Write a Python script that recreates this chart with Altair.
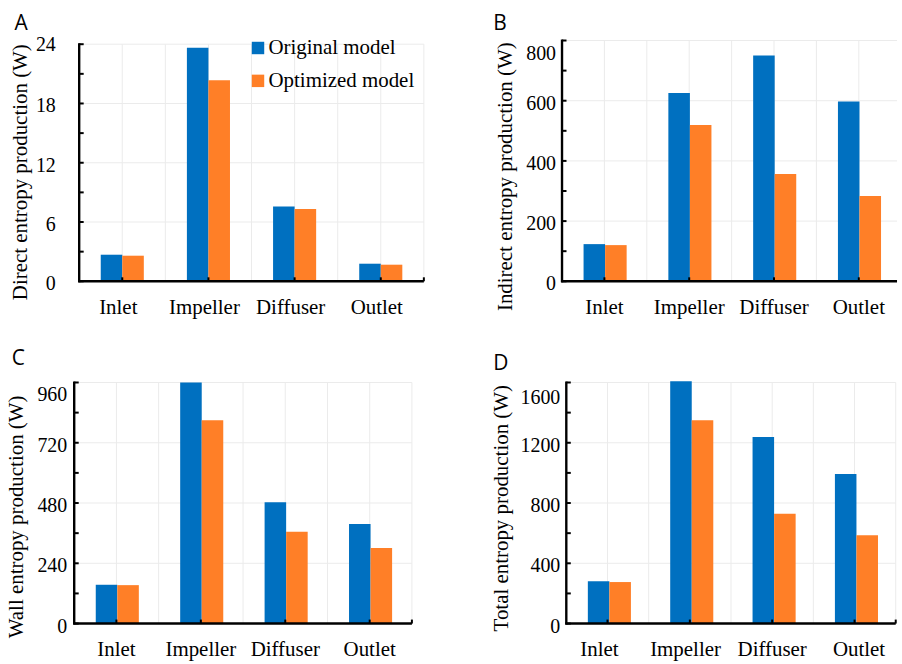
import altair as alt
import pandas as pd

# ---- data -----------------------------------------------------------------
categories = ["Inlet", "Impeller", "Diffuser", "Outlet"]
models = ["Original model", "Optimized model"]
colors = ["#0070C0", "#FF7F27"]

direct_original = [2.69, 23.63, 7.56, 1.78]
direct_optimized = [2.59, 20.34, 7.33, 1.68]

indirect_original = [123.5, 625.8, 750.6, 597.0]
indirect_optimized = [120.2, 518.9, 356.6, 283.7]

wall_original = [154.5, 960.0, 483.0, 396.0]
wall_optimized = [153.0, 810.0, 365.6, 301.0]

total_original = [281.0, 1609.0, 1239.0, 993.0]
total_optimized = [275.5, 1350.0, 729.0, 586.0]

direct_ticks = [0, 6, 12, 18, 24]
indirect_ticks = [0, 200, 400, 600, 800]
wall_ticks = [0, 240, 480, 720, 960]
total_ticks = [0, 400, 800, 1200, 1600]

# ---- style ----------------------------------------------------------------
SERIF = "Liberation Serif"
GRID = "#EBEBEB"
AXIS_W = 2.4
TICK_W = 2.0


def one_row():
    return pd.DataFrame({"k": [0]})


def panel(letter, title, orig, opt, ticks, g):
    W, H = g["W"], g["H"]
    x0, x1, ytop = g["x0"], g["x1"], g["ytop"]
    xr = min(x1, W)

    bars_df = pd.DataFrame({
        "cat": categories * 2,
        "model": [models[0]] * 4 + [models[1]] * 4,
        "value": list(orig) + list(opt),
    })
    cats_df = pd.DataFrame({"cat": categories})
    major_df = pd.DataFrame({"value": ticks})
    minor = [(a + b) / 2 for a, b in zip(ticks[:-1], ticks[1:])]
    tick_df = pd.DataFrame({"value": list(ticks) + minor})

    xscale = alt.Scale(domain=categories, range=[x0, x1],
                       paddingInner=0, paddingOuter=0)
    xaxis = alt.Axis(title=None, domain=False, ticks=False, grid=False,
                     labelAngle=0, labelFont=SERIF, labelFontSize=21,
                     labelColor="black", labelPadding=g["xlabpad"],
                     labelOffset=g["xlaboff"])

    def xenc(**kw):
        return alt.X("cat:N", sort=categories, scale=xscale, axis=xaxis, **kw)

    yscale = alt.Scale(domain=[0, ticks[-1]], range=[H, ytop], nice=False)
    yaxis = alt.Axis(title=title, values=ticks, format="d",
                     domain=False, ticks=False, grid=False,
                     offset=-x0,
                     labelFont=SERIF, labelFontSize=g["ylabsize"],
                     labelColor="black", labelPadding=g["ylabpad"],
                     labelOffset={"condition": {"test": f"datum.value == {ticks[-1]}",
                                                "value": g["toplaboff"]},
                                  "value": 2.5},
                     titleFont=SERIF, titleFontSize=21, titleFontWeight="normal",
                     titleColor="black", titleAngle=270, titleAlign="center",
                     titleBaseline="middle", titleX=g["tx"], titleY=g["ty"])

    def yenc():
        return alt.Y("value:Q", scale=yscale, axis=yaxis)

    layers = []
    # light grid: horizontal at labelled values
    layers.append(alt.Chart(major_df).mark_rule(color=GRID, strokeWidth=1).encode(
        y=yenc(), x=alt.value(x0), x2=alt.value(xr)))
    # light grid: vertical at band centres and band edges
    layers.append(alt.Chart(cats_df).mark_rule(color=GRID, strokeWidth=1).encode(
        x=xenc(), y=alt.value(ytop), y2=alt.value(H)))
    layers.append(alt.Chart(cats_df).mark_rule(color=GRID, strokeWidth=1).encode(
        x=xenc(bandPosition=0), y=alt.value(ytop), y2=alt.value(H)))
    if x1 <= W:
        layers.append(alt.Chart(one_row()).mark_rule(color=GRID, strokeWidth=1).encode(
            x=alt.value(x1), y=alt.value(ytop), y2=alt.value(H)))

    legend = None
    if g.get("legend"):
        lx, ly = g["legend"]
        legend = alt.Legend(title=None, orient="none", legendX=lx, legendY=ly,
                            symbolType="square", symbolSize=156,
                            symbolStrokeWidth=0, symbolOpacity=1,
                            labelFont=SERIF, labelFontSize=21, labelColor="black",
                            labelOffset=0, rowPadding=11, padding=0)
    layers.append(alt.Chart(bars_df).mark_bar(strokeWidth=0).encode(
        x=xenc(),
        xOffset=alt.XOffset("model:N", sort=models,
                            scale=alt.Scale(domain=models, paddingInner=0,
                                            paddingOuter=1)),
        y=yenc(),
        color=alt.Color("model:N", sort=models,
                        scale=alt.Scale(domain=models, range=colors),
                        legend=legend),
    ))

    # inward ticks on the value axis (labelled and half steps)
    layers.append(alt.Chart(tick_df).mark_rule(color="black", strokeWidth=TICK_W).encode(
        y=yenc(), x=alt.value(x0), x2=alt.value(x0 + 4.5)))
    # inward ticks on the category axis
    layers.append(alt.Chart(cats_df).mark_rule(color="black", strokeWidth=TICK_W).encode(
        x=xenc(), y=alt.value(H), y2=alt.value(H - 4)))
    if x1 <= W:
        layers.append(alt.Chart(one_row()).mark_rule(color="black", strokeWidth=TICK_W).encode(
            x=alt.value(x1), y=alt.value(H), y2=alt.value(H - 4)))
    # axis lines
    layers.append(alt.Chart(one_row()).mark_rule(color="black", strokeWidth=AXIS_W).encode(
        x=alt.value(x0), y=alt.value(ytop - 1), y2=alt.value(H + 1)))
    layers.append(alt.Chart(one_row()).mark_rule(color="black", strokeWidth=AXIS_W).encode(
        y=alt.value(H), x=alt.value(x0 - 1), x2=alt.value(xr)))
    # panel letter
    lx, ly = g["letter"]
    layers.append(alt.Chart(one_row()).mark_text(
        text=letter, font="Open Sans", fontSize=21, align="left",
        baseline="alphabetic", color="black").encode(
        x=alt.value(lx), y=alt.value(ly)))

    return alt.layer(*layers).properties(width=W, height=H)


COL_W = [351, 336.3]
ROW_H = [241.7, 242]

geom_a = dict(W=COL_W[0], H=ROW_H[0], x0=5, x1=351, ytop=3.7,
              ylabsize=20, ylabpad=24, toplaboff=0.5, xlabpad=15, xlaboff=-4,
              tx=-58.5, ty=131.7, letter=(-60, -10.8), legend=(174, -3))
geom_b = dict(W=COL_W[1], H=ROW_H[0], x0=0, x1=340.5, ytop=0,
              ylabsize=20, ylabpad=6.5, toplaboff=13, xlabpad=15, xlaboff=0,
              tx=-56.7, ty=136.2, letter=(-69, -11))
geom_c = dict(W=COL_W[0], H=ROW_H[1], x0=0, x1=339, ytop=0,
              ylabsize=20, ylabpad=7.5, toplaboff=12.5, xlabpad=15, xlaboff=0,
              tx=-57.7, ty=134.4, letter=(-62.7, -17.3))
geom_d = dict(W=COL_W[1], H=ROW_H[1], x0=4.3, x1=335, ytop=0,
              ylabsize=20, ylabpad=6.5, toplaboff=15,
              xlabpad=15,
              xlaboff={"condition": [{"test": "datum.value == 'Inlet'", "value": -8},
                                     {"test": "datum.value == 'Impeller'", "value": -4.3},
                                     {"test": "datum.value == 'Outlet'", "value": 4.5}],
                       "value": 0},
              tx=-65, ty=125.7, letter=(-69, -12.3))

chart_a = panel("A", "Direct entropy production  (W)",
                direct_original, direct_optimized, direct_ticks, geom_a)
chart_b = panel("B", "Indirect entropy production (W)",
                indirect_original, indirect_optimized, indirect_ticks, geom_b)
chart_c = panel("C", "Wall entropy production (W)",
                wall_original, wall_optimized, wall_ticks, geom_c)
chart_d = panel("D", "Total entropy production (W)",
                total_original, total_optimized, total_ticks, geom_d)

chart = alt.concat(
    chart_a, chart_b, chart_c, chart_d,
    columns=2, bounds="flush",
    spacing={"column": 138.7, "row": 101.3},
).resolve_scale(
    color="independent"
).resolve_legend(
    color="independent"
).properties(
    padding={"left": 5.5, "top": 11.4, "right": 0, "bottom": 0},
    background="white",
).configure(
    font=SERIF
).configure_axis(
    labelFont=SERIF, titleFont=SERIF
).configure_legend(
    labelFont=SERIF
).configure_view(stroke=None)

chart.save("out.html", embed_options={"renderer": "svg", "actions": False})
